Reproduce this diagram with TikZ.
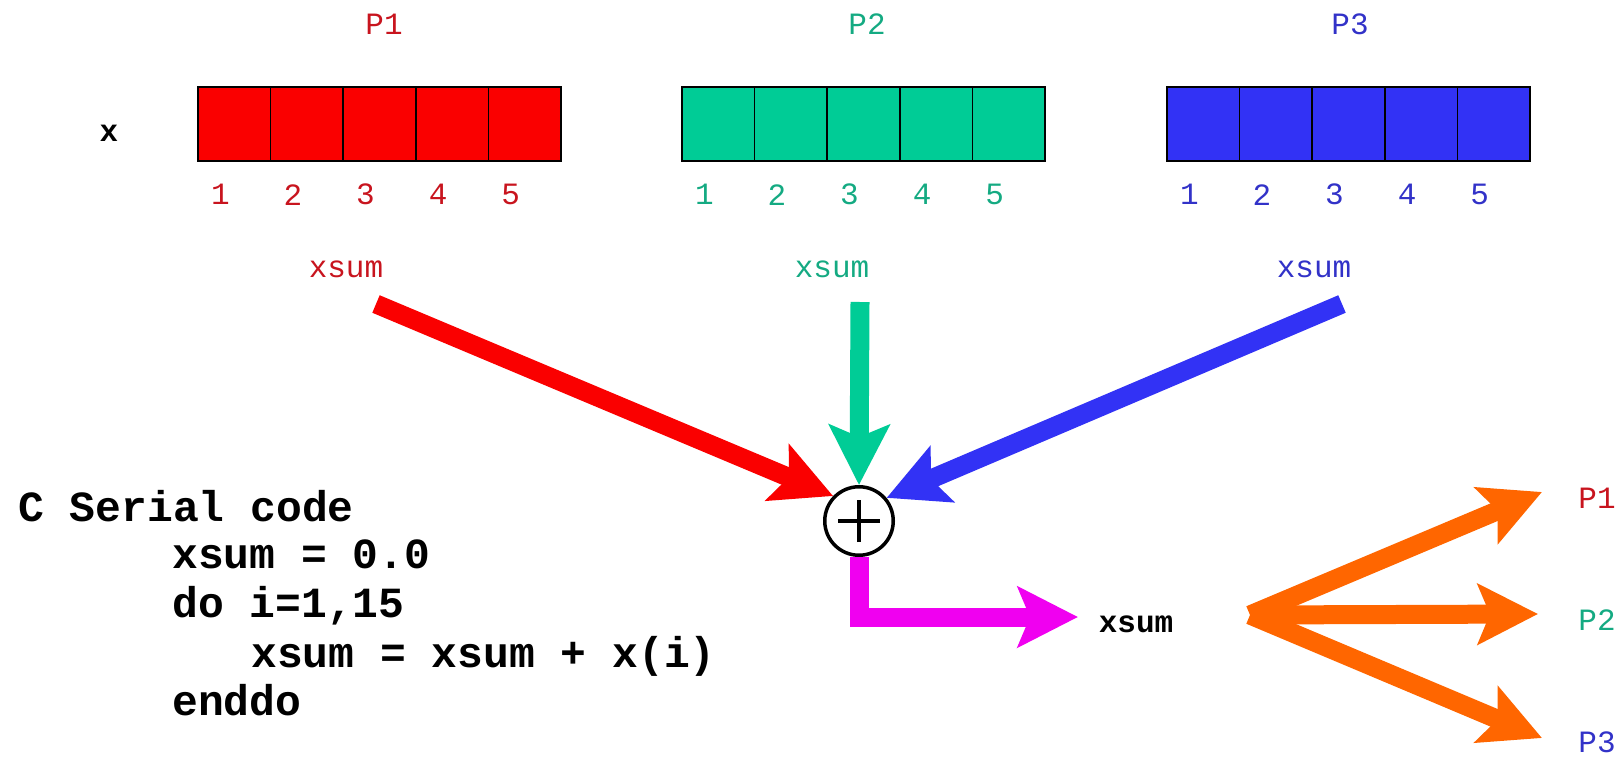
\documentclass[tikz,border=0pt]{standalone}
\usepackage{fontspec}
\usepackage{tikz}
\usetikzlibrary{positioning, arrows.meta, shapes.geometric}
\newfontfamily\monofont{Liberation Mono}

\definecolor{pred}{RGB}{250,0,0}
\definecolor{pgreen}{RGB}{0,204,150}
\definecolor{pblue}{RGB}{50,50,245}
\definecolor{tred}{RGB}{200,20,30}
\definecolor{tgreen}{RGB}{20,170,130}
\definecolor{tblue}{RGB}{50,50,200}
\definecolor{pmag}{RGB}{240,0,240}
\definecolor{porange}{RGB}{255,102,0}

\begin{document}
\begin{tikzpicture}[
    x=1pt, y=-1pt,
    cell/.style={draw=black, line width=1.5pt, minimum width=72.6pt, minimum height=74pt, inner sep=0pt},
    lab/.style={font=\monofont\fontsize{31}{31}\selectfont, inner sep=0pt},
    boldlab/.style={lab, font=\monofont\bfseries\fontsize{31}{31}\selectfont},
    code/.style={font=\monofont\bfseries\fontsize{43}{43}\selectfont, anchor=base west, inner sep=0pt},
    fat/.style={line width=19pt, -{Stealth[length=60pt, width=60pt, inset=12pt]}}
]
\useasboundingbox (0,0) rectangle (1624,757);

% Processor labels
\node[lab, text=tred] (p1) at (384,24) {P1};
\node[lab, text=tgreen] (p2) at (867,24) {P2};
\node[lab, text=tblue] (p3) at (1350,24) {P3};
\node[boldlab] (xlab) at (109,133) {x};

% Array pieces
\foreach \a/\x/\c/\t in {r/198/pred/tred, g/682/pgreen/tgreen, b/1167/pblue/tblue} {
  \foreach \i in {1,...,5} {
    \node[cell, fill=\c] (\a\i) at ({\x+72.6*(\i-0.5)},124) {};
    \node[lab, text=\t] (\a n\i) at ([xshift=-14pt, yshift=-33pt]\a\i.south) {\i};
  }
}

% Partial sums
\node[lab, text=tred] (rsum) at (346,269) {xsum};
\node[lab, text=tgreen] (gsum) at (832,269) {xsum};
\node[lab, text=tblue] (bsum) at (1314,269) {xsum};
\coordinate (rsrc) at (376,304);
\coordinate (gsrc) at (860,302);
\coordinate (bsrc) at (1342,304);

% Reduction
\node[circle, draw, line width=3.5pt, minimum size=68.5pt, inner sep=0pt] (sum) at (859,521) {};
\draw[line width=4.5pt] ([xshift=-21pt]sum.center) -- ([xshift=21pt]sum.center);
\draw[line width=4.5pt] ([yshift=-21pt]sum.center) -- ([yshift=21pt]sum.center);

\draw[fat, pred] (rsrc) -- (sum.136);
\draw[fat, pgreen] (gsrc) -- (sum.north);
\draw[fat, pblue] (bsrc) -- (sum.40);

% Result
\coordinate (magtip) at (1078,617);
\draw[fat, pmag] (sum.south) |- (magtip);
\node[boldlab] (xsum) at (1136,624) {xsum};

% Broadcast
\coordinate (fan) at (1250,615);
\coordinate (t1) at (1542,492);
\coordinate (t2) at (1538,614);
\coordinate (t3) at (1542,738);
\draw[fat, porange] (fan) -- (t1);
\draw[fat, porange] (fan) -- (t2);
\draw[fat, porange] (fan) -- (t3);
\node[lab, text=tred] (o1) at (1597,498) {P1};
\node[lab, text=tgreen] (o2) at (1597,620) {P2};
\node[lab, text=tblue] (o3) at (1597,742) {P3};

% Serial code
\node[code] (c1) at (18,521) {C Serial code};
\node[code] (c2) at (172,568) {xsum = 0.0};
\node[code] (c3) at (172,617) {do i=1,15};
\node[code] (c4) at (251,667) {xsum = xsum + x(i)};
\node[code] (c5) at (172,715) {enddo};

\end{tikzpicture}
\end{document}
